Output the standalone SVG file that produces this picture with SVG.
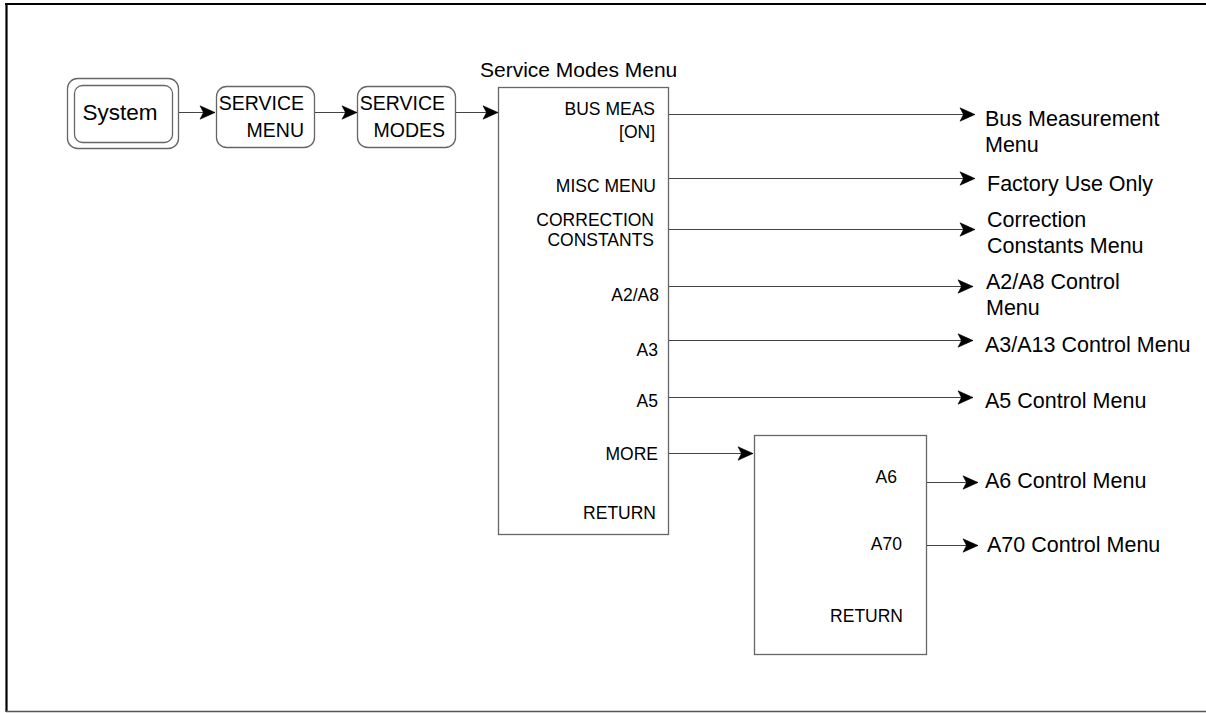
<svg xmlns="http://www.w3.org/2000/svg" width="1206" height="713" viewBox="0 0 1206 713">
<style>
text{font-family:"Liberation Sans",Arial,sans-serif;fill:#000}
.lbl{font-size:17.5px;text-anchor:end}
.tgt{font-size:21.5px}
.btn{font-size:19.5px;text-anchor:end}
.box{fill:#fff;stroke:#666;stroke-width:1.3}
.conn{stroke:#444;stroke-width:1.2;fill:none;marker-end:url(#arr)}
</style>
<defs>
<marker id="arr" markerUnits="userSpaceOnUse" markerWidth="17" markerHeight="15" viewBox="0 0 17 15" refX="16" refY="7.5" orient="auto">
<path d="M1,0.8 L16,7.5 L1,14.2 L4.5,7.5 Z" fill="#000" stroke="#000" stroke-width="0.6" stroke-linejoin="miter"/>
</marker>
</defs>
<rect width="1206" height="713" fill="#fff"/>
<g id="frame">
<line x1="5" y1="4" x2="1206" y2="4" stroke="#000" stroke-width="2.2"/>
<line x1="6.5" y1="3" x2="6.5" y2="712" stroke="#000" stroke-width="2.2"/>
<line x1="6" y1="711.5" x2="1206" y2="711.5" stroke="#555" stroke-width="1.3"/>
</g>
<g id="system">
<rect x="67.5" y="78.5" width="111" height="70" rx="10" class="box"/>
<rect x="74.5" y="85.5" width="98" height="57" rx="8" class="box"/>
<text x="120" y="120" font-size="22.5" text-anchor="middle">System</text>
</g>
<g id="service-menu">
<rect x="216.5" y="86.5" width="98" height="61" rx="10" class="box"/>
<text x="304" y="110" class="btn">SERVICE</text>
<text x="304" y="137" class="btn">MENU</text>
</g>
<g id="service-modes">
<rect x="357.5" y="86.5" width="98" height="61" rx="10" class="box"/>
<text x="445" y="110" class="btn">SERVICE</text>
<text x="445" y="137" class="btn">MODES</text>
</g>
<g id="service-modes-menu">
<text x="480" y="77" font-size="21">Service Modes Menu</text>
<rect x="498.5" y="87.5" width="170" height="447" class="box"/>
<text x="655" y="115" class="lbl">BUS MEAS</text>
<text x="655" y="138" class="lbl">[ON]</text>
<text x="656" y="192" class="lbl">MISC MENU</text>
<text x="654" y="226" class="lbl">CORRECTION</text>
<text x="654" y="246" class="lbl">CONSTANTS</text>
<text x="659" y="301" class="lbl">A2/A8</text>
<text x="658" y="356" class="lbl">A3</text>
<text x="658" y="407" class="lbl">A5</text>
<text x="658" y="460" class="lbl">MORE</text>
<text x="656" y="519" class="lbl">RETURN</text>
</g>
<g id="more-menu">
<rect x="754.5" y="435.5" width="172" height="219" class="box"/>
<text x="897" y="483" class="lbl">A6</text>
<text x="902" y="550" class="lbl">A70</text>
<text x="903" y="622" class="lbl">RETURN</text>
</g>
<g id="targets">
<text x="985" y="126" class="tgt">Bus Measurement</text>
<text x="985" y="152" class="tgt">Menu</text>
<text x="987" y="191" class="tgt">Factory Use Only</text>
<text x="987" y="227" class="tgt">Correction</text>
<text x="987" y="253" class="tgt">Constants Menu</text>
<text x="986" y="289" class="tgt">A2/A8 Control</text>
<text x="986" y="315" class="tgt">Menu</text>
<text x="985" y="352" class="tgt">A3/A13 Control Menu</text>
<text x="985" y="408" class="tgt">A5 Control Menu</text>
<text x="985" y="488" class="tgt">A6 Control Menu</text>
<text x="987" y="552" class="tgt">A70 Control Menu</text>
</g>
<g id="connectors">
<line x1="179" y1="112.5" x2="215" y2="112.5" class="conn"/>
<line x1="315" y1="112.5" x2="357" y2="112.5" class="conn"/>
<line x1="456" y1="112.5" x2="498" y2="112.5" class="conn"/>
<line x1="669" y1="114.5" x2="975" y2="114.5" class="conn"/>
<line x1="669" y1="178.5" x2="975" y2="178.5" class="conn"/>
<line x1="669" y1="229.5" x2="975" y2="229.5" class="conn"/>
<line x1="669" y1="286.5" x2="973" y2="286.5" class="conn"/>
<line x1="669" y1="340.5" x2="973" y2="340.5" class="conn"/>
<line x1="669" y1="397.5" x2="973" y2="397.5" class="conn"/>
<line x1="669" y1="453.5" x2="753" y2="453.5" class="conn"/>
<line x1="927" y1="482.5" x2="978" y2="482.5" class="conn"/>
<line x1="927" y1="545.5" x2="978" y2="545.5" class="conn"/>
</g>
</svg>
